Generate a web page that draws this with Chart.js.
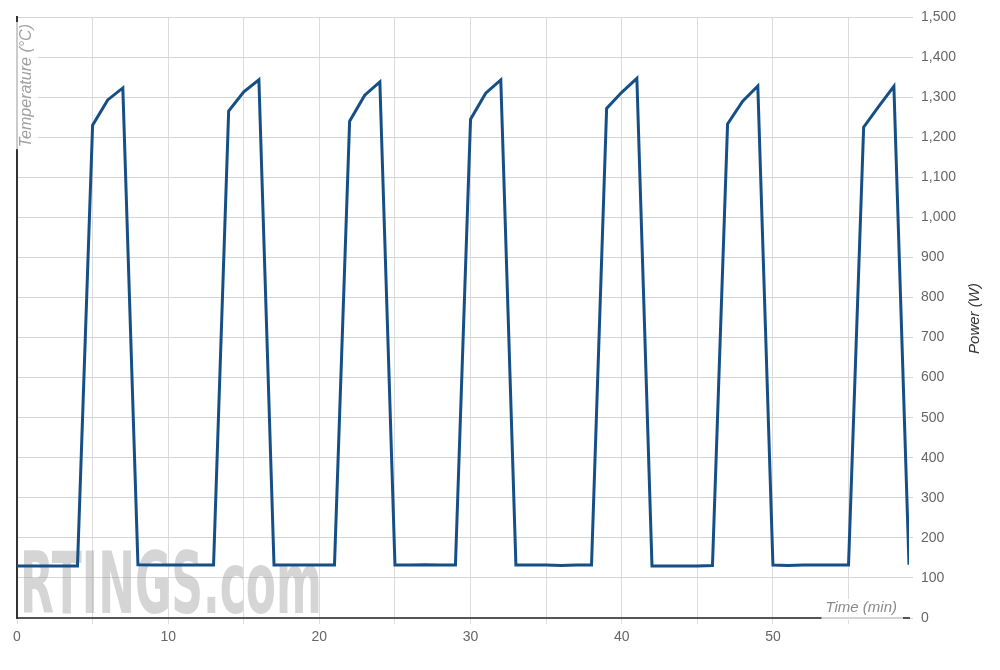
<!DOCTYPE html>
<html>
<head>
<meta charset="utf-8">
<script src="https://cdn.jsdelivr.net/npm/chart.js@4"></script>
<style>
  html, body { margin: 0; padding: 0; background: #fff; }
  #wrap { width: 1000px; height: 670px; position: relative; }
</style>
</head>
<body>
<div id="wrap"><canvas id="myChart" width="1000" height="670"></canvas></div>
<script>
// time in minutes
const minutes = [0, 1, 2, 3, 4, 5, 6, 7, 8, 9, 10, 11, 12, 13, 14, 15, 16, 17, 18, 19,
	20, 21, 22, 23, 24, 25, 26, 27, 28, 29, 30, 31, 32, 33, 34, 35, 36, 37, 38, 39,
	40, 41, 42, 43, 44, 45, 46, 47, 48, 49, 50, 51, 52, 53, 54, 55, 56, 57, 58, 59];

// power draw (W)
const power = [130, 130, 130, 130, 130, 1230, 1293, 1323, 133, 132,
	132, 132, 132, 132, 1265, 1313, 1343, 132, 132, 132,
	132, 132, 1240, 1305, 1338, 132, 132, 133, 132, 132,
	1245, 1310, 1343, 132, 132, 132, 131, 132, 132, 1272,
	1312, 1347, 130, 130, 130, 130, 131, 1233, 1290, 1328,
	132, 131, 132, 132, 132, 132, 1225, 1277, 1327, 133];

const powerTicks = [0, 100, 200, 300, 400, 500, 600, 700, 800, 900, 1000, 1100, 1200, 1300, 1400, 1500];
const timeTicks = [0, 10, 20, 30, 40, 50];

const points = minutes.map(function(m, i){ return {x: m, y: power[i]}; });

// watermark + axis titles
const decor = {
	id: 'decor',
	beforeDatasetsDraw: function(chart){
		const ctx = chart.ctx;
		const a = chart.chartArea;
		ctx.save();
		ctx.font = 'bold 86px "DejaVu Sans Condensed", "DejaVu Sans"';
		const w = ctx.measureText('RTINGS.com').width;
		ctx.translate(a.left + 3, a.bottom - 5);
		ctx.scale(302 / w, 1);
		ctx.fillStyle = 'rgba(150,150,150,0.4)';
		ctx.textBaseline = 'alphabetic';
		ctx.fillText('RTINGS.com', 0, 0);
		ctx.restore();
	},
	afterDraw: function(chart){
		const ctx = chart.ctx;
		const a = chart.chartArea;
		ctx.save();
		ctx.textBaseline = 'middle';

		// left title
		ctx.font = 'italic 16px "Liberation Sans", Arial';
		let tw = ctx.measureText('Temperature (°C)').width;
		ctx.save();
		ctx.translate(a.left + 10, a.top + 5);
		ctx.rotate(-Math.PI / 2);
		ctx.fillStyle = 'rgba(255,255,255,0.75)';
		ctx.fillRect(-tw - 4, -11, tw + 4, 22);
		ctx.fillStyle = '#a0a0a0';
		ctx.textAlign = 'right';
		ctx.fillText('Temperature (°C)', -2, 0);
		ctx.restore();

		// bottom title
		ctx.font = 'italic 15px "Liberation Sans", Arial';
		tw = ctx.measureText('Time (min)').width;
		ctx.fillStyle = 'rgba(255,255,255,0.75)';
		ctx.fillRect(a.right - 14 - tw - 2, a.bottom - 19, tw + 10, 21);
		ctx.fillStyle = '#8a8a8a';
		ctx.textAlign = 'right';
		ctx.fillText('Time (min)', a.right - 12, a.bottom - 10);

		// right title
		ctx.save();
		ctx.translate(975, (a.top + a.bottom) / 2 + 1);
		ctx.rotate(-Math.PI / 2);
		ctx.fillStyle = '#333';
		ctx.textAlign = 'center';
		ctx.fillText('Power (W)', 0, 0);
		ctx.restore();
		ctx.restore();
	}
};

const ctx = document.getElementById('myChart');
const myChart = new Chart(ctx, {
	type: 'line',
	data: {
		datasets: [{
			label: 'Power',
			data: points,
			borderColor: '#164f86',
			borderWidth: 3,
			pointRadius: 0,
			tension: 0,
			fill: false,
			yAxisID: 'y'
		}]
	},
	options: {
		responsive: false,
		animation: false,
		layout: { padding: { left: 17, top: 17, right: 0, bottom: 0 } },
		plugins: { legend: { display: false }, tooltip: { enabled: false } },
		scales: {
			x: {
				type: 'linear',
				min: 0,
				max: 59,
				afterBuildTicks: function(axis){
					axis.ticks = [0, 5, 10, 15, 20, 25, 30, 35, 40, 45, 50, 55].map(function(v){ return {value: v}; });
				},
				afterFit: function(axis){ axis.height = 52; },
				ticks: {
					color: '#666',
					font: { family: '"Liberation Sans", Arial', size: 14 },
					padding: 5,
					maxRotation: 0,
					callback: function(v){ return timeTicks.indexOf(v) >= 0 ? v : ''; }
				},
				grid: { color: '#dcdcdc', lineWidth: 1, tickLength: 6 },
				border: { color: '#555', width: 2 }
			},
			yl: {
				position: 'left',
				min: 0,
				max: 1500,
				afterFit: function(axis){ axis.width = 0; },
				ticks: { display: false },
				grid: { display: false },
				border: { color: '#333', width: 2 }
			},
			y: {
				position: 'right',
				min: 0,
				max: 1500,
				afterBuildTicks: function(axis){
					axis.ticks = powerTicks.map(function(v){ return {value: v}; });
				},
				afterFit: function(axis){ axis.width = 91; },
				ticks: {
					color: '#666',
					font: { family: '"Liberation Sans", Arial', size: 14 },
					padding: 8
				},
				grid: { color: '#d6d6d6', lineWidth: 1, tickLength: 4 },
				border: { display: false }
			}
		}
	},
	plugins: [decor]
});
</script>
</body>
</html>
